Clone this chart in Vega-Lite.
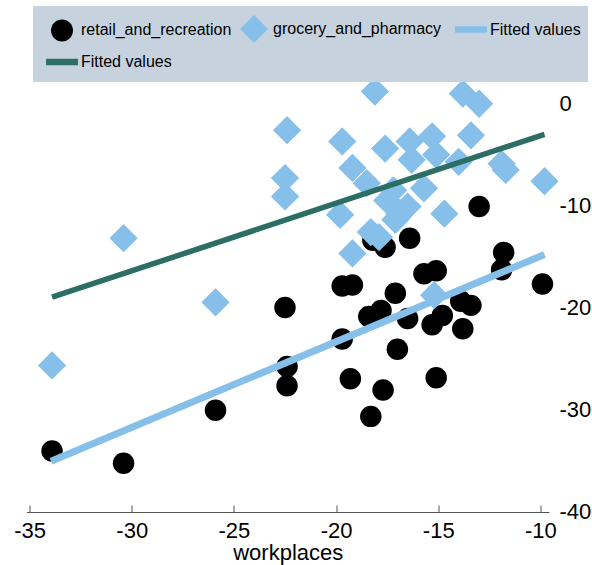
{
  "$schema": "https://vega.github.io/schema/vega-lite/v6.json",
  "autosize": {"type": "none"},
  "width": 522.5,
  "height": 427,
  "padding": {"left": 26.5, "top": 85, "right": 43, "bottom": 53},
  "background": "white",
  "config": {
    "font": "Liberation Sans",
    "view": {"stroke": null}
  },
  "data": {
    "values": [
      {"x": -33.9, "y": -34.1, "series": "retail_and_recreation"},
      {"x": -30.4, "y": -35.3, "series": "retail_and_recreation"},
      {"x": -25.9, "y": -30.1, "series": "retail_and_recreation"},
      {"x": -22.5, "y": -20.0, "series": "retail_and_recreation"},
      {"x": -22.4, "y": -25.8, "series": "retail_and_recreation"},
      {"x": -22.4, "y": -27.7, "series": "retail_and_recreation"},
      {"x": -19.7, "y": -17.9, "series": "retail_and_recreation"},
      {"x": -19.2, "y": -17.8, "series": "retail_and_recreation"},
      {"x": -19.7, "y": -23.1, "series": "retail_and_recreation"},
      {"x": -19.3, "y": -27.0, "series": "retail_and_recreation"},
      {"x": -18.3, "y": -30.7, "series": "retail_and_recreation"},
      {"x": -17.7, "y": -28.1, "series": "retail_and_recreation"},
      {"x": -17.0, "y": -24.1, "series": "retail_and_recreation"},
      {"x": -18.4, "y": -20.9, "series": "retail_and_recreation"},
      {"x": -17.8, "y": -20.3, "series": "retail_and_recreation"},
      {"x": -17.1, "y": -18.6, "series": "retail_and_recreation"},
      {"x": -16.5, "y": -21.1, "series": "retail_and_recreation"},
      {"x": -15.7, "y": -16.7, "series": "retail_and_recreation"},
      {"x": -15.1, "y": -16.4, "series": "retail_and_recreation"},
      {"x": -15.3, "y": -21.7, "series": "retail_and_recreation"},
      {"x": -14.8, "y": -20.8, "series": "retail_and_recreation"},
      {"x": -13.9, "y": -19.4, "series": "retail_and_recreation"},
      {"x": -13.4, "y": -19.8, "series": "retail_and_recreation"},
      {"x": -13.8, "y": -22.1, "series": "retail_and_recreation"},
      {"x": -15.1, "y": -26.9, "series": "retail_and_recreation"},
      {"x": -11.8, "y": -14.6, "series": "retail_and_recreation"},
      {"x": -11.9, "y": -16.3, "series": "retail_and_recreation"},
      {"x": -9.9, "y": -17.7, "series": "retail_and_recreation"},
      {"x": -13.0, "y": -10.1, "series": "retail_and_recreation"},
      {"x": -16.4, "y": -13.2, "series": "retail_and_recreation"},
      {"x": -17.6, "y": -14.1, "series": "retail_and_recreation"},
      {"x": -18.2, "y": -13.4, "series": "retail_and_recreation"},
      {"x": -33.9, "y": -25.7, "series": "grocery_and_pharmacy"},
      {"x": -30.4, "y": -13.2, "series": "grocery_and_pharmacy"},
      {"x": -25.9, "y": -19.5, "series": "grocery_and_pharmacy"},
      {"x": -22.4, "y": -2.6, "series": "grocery_and_pharmacy"},
      {"x": -22.5, "y": -7.3, "series": "grocery_and_pharmacy"},
      {"x": -22.5, "y": -9.1, "series": "grocery_and_pharmacy"},
      {"x": -18.1, "y": 1.2, "series": "grocery_and_pharmacy"},
      {"x": -13.8, "y": 1.0, "series": "grocery_and_pharmacy"},
      {"x": -13.0, "y": 0.0, "series": "grocery_and_pharmacy"},
      {"x": -19.7, "y": -3.7, "series": "grocery_and_pharmacy"},
      {"x": -13.4, "y": -3.1, "series": "grocery_and_pharmacy"},
      {"x": -17.6, "y": -4.4, "series": "grocery_and_pharmacy"},
      {"x": -16.4, "y": -3.7, "series": "grocery_and_pharmacy"},
      {"x": -15.3, "y": -3.2, "series": "grocery_and_pharmacy"},
      {"x": -19.2, "y": -6.3, "series": "grocery_and_pharmacy"},
      {"x": -16.3, "y": -5.5, "series": "grocery_and_pharmacy"},
      {"x": -15.1, "y": -5.0, "series": "grocery_and_pharmacy"},
      {"x": -14.0, "y": -5.7, "series": "grocery_and_pharmacy"},
      {"x": -11.9, "y": -5.9, "series": "grocery_and_pharmacy"},
      {"x": -11.7, "y": -6.5, "series": "grocery_and_pharmacy"},
      {"x": -9.8, "y": -7.6, "series": "grocery_and_pharmacy"},
      {"x": -18.5, "y": -7.8, "series": "grocery_and_pharmacy"},
      {"x": -19.8, "y": -10.9, "series": "grocery_and_pharmacy"},
      {"x": -15.7, "y": -8.3, "series": "grocery_and_pharmacy"},
      {"x": -14.7, "y": -10.8, "series": "grocery_and_pharmacy"},
      {"x": -19.2, "y": -14.7, "series": "grocery_and_pharmacy"},
      {"x": -18.3, "y": -12.6, "series": "grocery_and_pharmacy"},
      {"x": -17.9, "y": -13.1, "series": "grocery_and_pharmacy"},
      {"x": -17.1, "y": -11.4, "series": "grocery_and_pharmacy"},
      {"x": -16.5, "y": -10.1, "series": "grocery_and_pharmacy"},
      {"x": -17.5, "y": -9.5, "series": "grocery_and_pharmacy"},
      {"x": -16.9, "y": -10.9, "series": "grocery_and_pharmacy"},
      {"x": -15.2, "y": -18.8, "series": "grocery_and_pharmacy"},
      {"x": -17.2, "y": -8.5, "series": "grocery_and_pharmacy"},
      {"x": -33.95, "y": -35.1, "series": "fit1"},
      {"x": -9.8, "y": -14.8, "series": "fit1"},
      {"x": -33.9, "y": -19.0, "series": "fit2"},
      {"x": -9.8, "y": -3.0, "series": "fit2"}
    ]
  },
  "encoding": {
    "x": {
      "field": "x", "type": "quantitative",
      "scale": {"domain": [-35.15, -9.58], "nice": false, "zero": false},
      "axis": {
        "title": "workplaces", "titleFontSize": 22, "titleFontWeight": "normal", "titleColor": "#000", "titlePadding": 1,
        "values": [-35, -30, -25, -20, -15, -10],
        "labelExpr": "'' + datum.value",
        "labelFontSize": 22, "labelColor": "#000", "labelPadding": 15,
        "grid": false, "domainColor": "#555", "domainWidth": 1,
        "tickColor": "#555", "tickSize": -7, "tickWidth": 1, "labelFlush": false
      }
    },
    "y": {
      "field": "y", "type": "quantitative",
      "scale": {"domain": [-40.09, 1.84], "nice": false, "zero": false},
      "axis": {
        "orient": "right", "title": null,
        "values": [-40, -30, -20, -10, 0],
        "labelExpr": "'' + datum.value",
        "labelFontSize": 22, "labelColor": "#000", "labelPadding": 10, "labelAlign": "left",
        "grid": false, "domain": false, "ticks": false
      }
    },
    "color": {
      "field": "series", "type": "nominal",
      "scale": {
        "domain": ["retail_and_recreation", "grocery_and_pharmacy", "fit1", "fit2"],
        "range": ["#000000", "#86bfe9", "#86bfe9", "#2c6e63"]
      },
      "legend": {
        "orient": "none", "legendX": 6.5, "legendY": -79,
        "direction": "horizontal", "columns": 3,
        "title": " ", "titleFontSize": 1, "titlePadding": 7,
        "fillColor": "#c6d3df", "padding": 7,
        "labelFontSize": 16, "labelColor": "#000", "labelFont": "Liberation Sans", "labelLimit": 400,
        "symbolSize": 784, "symbolStrokeWidth": 0, "symbolOffset": 14, "labelOffset": 11, "columnPadding": 0, "rowPadding": 6,
        "labelExpr": "datum.value == 'fit1' || datum.value == 'fit2' ? 'Fitted values' : datum.value",
        "encode": {
          "symbols": {
            "update": {
              "fill": {"signal": "(datum.value == 'fit1' || datum.value == 'fit2') ? 'transparent' : scale('color', datum.value)"},
              "stroke": {"signal": "scale('color', datum.value)"},
              "strokeWidth": {"signal": "(datum.value == 'fit1' || datum.value == 'fit2') ? 6.5 : 0"},
              "opacity": {"value": 1}
            }
          }
        }
      }
    },
    "shape": {
      "field": "series", "type": "nominal",
      "scale": {
        "domain": ["retail_and_recreation", "grocery_and_pharmacy", "fit1", "fit2"],
        "range": ["M0.786,0A0.786,0.786,0,1,1,-0.786,0A0.786,0.786,0,1,1,0.786,0Z", "diamond", "M-1.14,0L1.14,0", "M-1.14,0L1.14,0"]
      }
    }
  },
  "layer": [
    {
      "transform": [{"filter": "datum.series == 'retail_and_recreation'"}],
      "mark": {"type": "point", "filled": true, "opacity": 1, "size": 748, "strokeWidth": 0}
    },
    {
      "transform": [{"filter": "datum.series == 'grocery_and_pharmacy'"}],
      "mark": {"type": "point", "filled": true, "opacity": 1, "size": 800, "strokeWidth": 0}
    },
    {
      "transform": [{"filter": "datum.series == 'fit1'"}],
      "mark": {"type": "line", "strokeWidth": 7},
      "encoding": {"shape": null}
    },
    {
      "transform": [{"filter": "datum.series == 'fit2'"}],
      "mark": {"type": "line", "strokeWidth": 5.5},
      "encoding": {"shape": null}
    }
  ]
}
